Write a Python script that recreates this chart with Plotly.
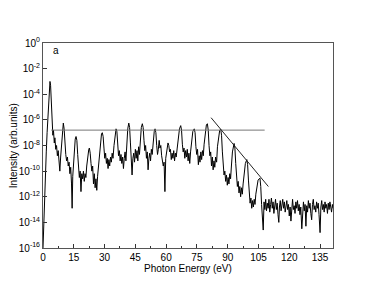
import plotly.graph_objects as go

# Spectrum: photon energy (eV) and log10 intensity
energy = [0.0, 0.3, 0.5, 0.8, 1.0, 1.3, 1.6, 2.0, 2.4, 2.8, 3.1, 3.4, 3.7, 4.0, 4.4,
          4.8, 5.1, 5.5, 5.8, 6.2, 6.6, 7.0, 7.4, 7.8, 8.2, 8.6, 9.0, 9.4, 9.9, 10.3,
          10.7, 11.1, 11.5, 11.9, 12.3, 12.7, 13.1, 13.5, 13.9, 14.2, 14.5, 14.9, 15.3, 15.7, 16.1,
          16.5, 16.9, 17.3, 17.7, 18.1, 18.5, 18.9, 19.3, 19.7, 20.1, 20.5, 20.9, 21.3, 21.8, 22.3,
          22.6, 23.0, 23.4, 23.8, 24.2, 24.6, 25.0, 25.4, 25.8, 26.2, 26.6, 27.0, 27.5, 28.0, 28.5,
          28.9, 29.3, 29.7, 30.1, 30.5, 30.9, 31.3, 31.7, 32.1, 32.5, 32.9, 33.3, 33.7, 34.1, 34.6,
          35.1, 35.6, 36.0, 36.4, 36.8, 37.2, 37.6, 38.0, 38.4, 38.8, 39.2, 39.6, 40.0, 40.4, 40.8,
          41.3, 41.8, 42.2, 42.6, 43.0, 43.4, 43.8, 44.2, 44.6, 45.0, 45.4, 45.8, 46.2, 46.6, 47.0,
          47.5, 47.9, 48.4, 48.8, 49.2, 49.6, 50.0, 50.4, 50.8, 51.2, 51.6, 52.0, 52.4, 52.8, 53.2,
          53.7, 54.2, 54.6, 55.0, 55.4, 55.8, 56.2, 56.6, 57.0, 57.4, 57.8, 58.2, 58.6, 59.0, 59.4,
          59.8, 60.3, 60.9, 61.3, 61.7, 62.1, 62.5, 62.9, 63.3, 63.7, 64.1, 64.5, 64.9, 65.4, 65.9,
          66.5, 67.1, 67.5, 67.9, 68.3, 68.7, 69.1, 69.5, 69.9, 70.3, 70.7, 71.1, 71.5, 71.9, 72.4,
          73.0, 73.7, 74.1, 74.5, 74.9, 75.3, 75.7, 76.1, 76.5, 76.9, 77.3, 77.7, 78.1, 78.5, 79.0,
          79.6, 80.1, 80.5, 80.9, 81.3, 81.7, 82.1, 82.5, 82.9, 83.3, 83.7, 84.1, 84.6, 85.0, 85.6,
          86.1, 86.6, 87.0, 87.4, 87.8, 88.2, 88.6, 89.0, 89.4, 89.8, 90.2, 90.6, 91.0, 91.4, 91.8,
          92.3, 93.1, 93.5, 93.9, 94.3, 94.7, 95.1, 95.5, 95.9, 96.3, 96.7, 97.1, 97.5, 98.0, 98.6,
          99.3, 99.7, 100.1, 100.5, 100.9, 101.3, 101.7, 102.1, 102.5, 102.9, 103.3, 103.7, 104.2, 104.8, 105.7,
          106.1, 106.5, 106.9, 107.3, 107.7, 108.1, 108.5, 108.9, 109.3, 109.7, 110.1, 110.5, 110.9, 111.3, 111.7,
          112.1, 112.5, 112.9, 113.3, 113.7, 114.1, 114.5, 114.9, 115.2, 115.6, 116.0, 116.4, 116.8, 117.2, 117.6,
          118.0, 118.4, 118.8, 119.2, 119.6, 120.0, 120.4, 120.8, 121.2, 121.6, 122.0, 122.4, 122.8, 123.2, 123.6,
          124.0, 124.4, 124.8, 125.2, 125.6, 126.1, 126.5, 126.9, 127.3, 127.7, 128.1, 128.5, 128.9, 129.3, 129.7,
          130.1, 130.5, 130.9, 131.3, 131.7, 132.1, 132.5, 132.9, 133.3, 133.7, 134.1, 134.5, 135.0, 135.4, 135.8,
          136.2, 136.6, 137.0, 137.4, 137.8, 138.2, 138.6, 139.0, 139.4, 139.8, 140.2, 140.6, 141.0, 141.3]

log_intensity = [-16.0, -14.5, -13.0, -11.0, -10.0, -9.5, -8.5, -7.0, -5.5, -4.0, -3.2, -3.0, -3.3, -4.5, -6.0,
                 -7.2, -6.8, -7.8, -7.4, -8.3, -8.0, -8.8, -8.4, -9.3, -10.0, -8.9, -8.0, -6.9, -6.25, -6.7,
                 -8.0, -8.7, -9.2, -8.9, -9.6, -9.3, -10.2, -9.7, -11.0, -12.9, -10.4, -9.2, -8.3, -7.5, -7.3,
                 -7.6, -8.7, -9.8, -10.5, -10.0, -11.6, -10.2, -10.6, -10.0, -10.8, -10.2, -10.5, -9.6, -8.8, -8.3,
                 -8.2, -8.6, -9.4, -10.0, -9.6, -11.0, -10.2, -11.3, -10.6, -11.5, -10.4, -9.6, -8.5, -7.6, -7.1,
                 -7.0, -7.3, -8.2, -9.0, -8.6, -9.4, -9.0, -9.8, -9.1, -9.6, -8.9, -9.3, -8.6, -9.0, -8.0,
                 -7.0, -6.7, -6.9, -7.9, -8.8, -8.4, -9.2, -8.7, -9.4, -8.9, -9.8, -9.0, -8.5, -9.2, -7.8,
                 -6.7, -6.25, -6.6, -7.8, -9.0, -10.3, -9.0, -8.6, -9.3, -8.3, -9.0, -8.4, -9.2, -8.1, -8.7,
                 -7.5, -6.6, -6.3, -6.6, -7.6, -8.4, -8.0, -9.0, -8.5, -9.9, -9.0, -8.6, -9.2, -8.3, -8.7,
                 -7.6, -6.9, -6.7, -7.0, -8.0, -8.7, -8.3, -7.6, -8.2, -8.0, -8.8, -9.1, -9.6, -9.3, -11.6,
                 -9.0, -8.2, -7.8, -8.0, -8.5, -8.3, -9.1, -8.6, -9.0, -8.4, -9.2, -8.6, -8.9, -8.2, -7.5,
                 -6.7, -6.45, -6.8, -7.9, -8.5, -8.2, -9.0, -8.4, -8.9, -8.3, -9.2, -8.6, -9.4, -8.5, -7.6,
                 -6.9, -6.7, -7.0, -8.1, -8.7, -8.3, -9.5, -8.8, -9.3, -8.5, -9.1, -8.4, -8.8, -7.9, -6.9,
                 -6.4, -6.3, -6.8, -8.0, -8.8, -8.5, -9.6, -8.9, -9.9, -9.2, -9.7, -8.9, -9.3, -8.1, -7.2,
                 -6.8, -6.75, -7.2, -8.5, -9.6, -10.3, -10.0, -10.8, -10.3, -11.1, -10.5, -11.0, -10.2, -10.6, -9.6,
                 -8.5, -7.84, -8.2, -9.4, -10.4, -11.2, -10.8, -11.7, -11.2, -12.0, -11.3, -11.8, -11.0, -10.2, -9.4,
                 -9.1, -9.5, -10.7, -11.8, -12.5, -12.1, -12.9, -12.3, -12.8, -12.2, -12.6, -11.8, -11.1, -10.7, -10.55,
                 -11.2, -12.6, -13.3, -14.6, -12.4, -13.0, -12.2, -13.1, -12.5, -12.9, -12.2, -13.2, -12.6, -12.1, -12.9,
                 -12.4, -13.3, -12.7, -12.2, -13.0, -12.5, -13.4, -14.0, -12.8, -12.3, -13.1, -12.6, -12.2, -12.9, -12.4,
                 -13.2, -12.7, -12.3, -13.0, -12.6, -13.5, -12.8, -13.9, -12.5, -12.2, -13.0, -12.7, -13.3, -12.4, -12.9,
                 -12.3, -13.1, -12.6, -13.4, -12.8, -14.5, -12.9, -12.4, -13.1, -12.6, -14.3, -12.7, -13.2, -12.3, -12.9,
                 -12.5, -13.3, -13.8, -12.6, -12.2, -13.0, -12.7, -13.2, -12.4, -12.9, -12.5, -13.4, -14.8, -12.8, -12.3,
                 -13.0, -12.6, -13.2, -12.4, -12.9, -12.6, -13.3, -12.5, -13.0, -12.4, -12.8, -13.2, -12.6, -12.9]

# Guide lines (energy, log10 intensity)
plateau_x = [4.0, 108.0]
plateau_y = [-6.8, -6.8]
cutoff_x = [81.9, 109.8]
cutoff_y = [-5.83, -11.2]

y_exponents = [0, -2, -4, -6, -8, -10, -12, -14, -16]
x_ticks = [0, 15, 30, 45, 60, 75, 90, 105, 120, 135]

intensity = [10 ** v for v in log_intensity]

fig = go.Figure()
fig.add_trace(go.Scatter(x=energy, y=intensity, mode="lines",
                         line=dict(color="black", width=1), showlegend=False))
fig.add_trace(go.Scatter(x=plateau_x, y=[10 ** v for v in plateau_y], mode="lines",
                         line=dict(color="#777777", width=1), showlegend=False))
fig.add_trace(go.Scatter(x=cutoff_x, y=[10 ** v for v in cutoff_y], mode="lines",
                         line=dict(color="#222222", width=1), showlegend=False))

font = "Liberation Sans, Arial, sans-serif"
fig.update_layout(
    width=360, height=275,
    margin=dict(l=35, r=35, t=35, b=35),
    paper_bgcolor="white", plot_bgcolor="white",
    font=dict(family=font, size=10, color="black"),
    xaxis=dict(range=[0, 141.3], tickmode="array", tickvals=x_ticks,
               ticks="inside", ticklen=4, tickcolor="#333", showgrid=False, zeroline=False,
               showline=True, linecolor="#555", linewidth=1, mirror=True,
               minor=dict(ticks="inside", ticklen=2, dtick=7.5, tick0=0, tickcolor="#333", showgrid=False),
               tickfont=dict(size=10)),
    yaxis=dict(type="log", range=[-16, 0], tickmode="array",
               tickvals=[10 ** e for e in y_exponents],
               ticktext=["10<sup>%d</sup>" % e for e in y_exponents],
               ticks="inside", ticklen=4, tickcolor="#333", showgrid=False, zeroline=False,
               showline=True, linecolor="#555", linewidth=1, mirror=True,
               tickfont=dict(size=10)),
    annotations=[
        dict(text="a", x=6.3, y=-0.6, xref="x", yref="y", showarrow=False,
             font=dict(size=10)),
        dict(text="Photon Energy (eV)", x=0.5, y=-0.098, xref="paper", yref="paper",
             showarrow=False, xanchor="center", yanchor="middle", font=dict(size=10)),
        dict(text="Intensity (arb.units)", x=-0.101, y=0.5, xref="paper", yref="paper",
             showarrow=False, textangle=-90, xanchor="center", yanchor="middle",
             font=dict(size=10)),
    ],
)

fig.write_html("out.html")
